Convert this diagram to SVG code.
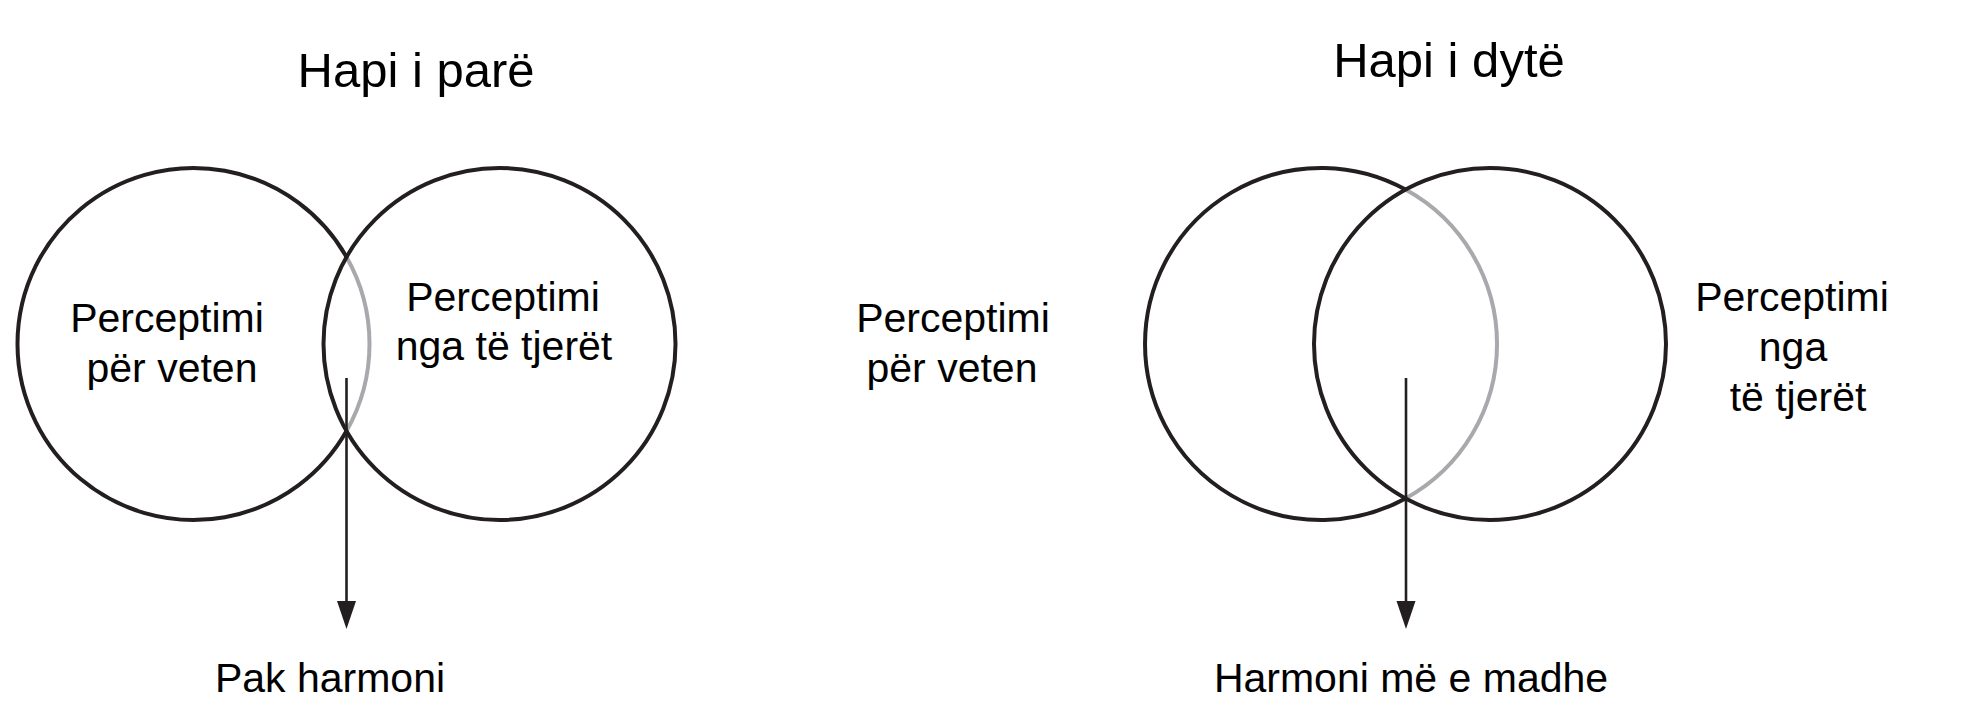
<svg xmlns="http://www.w3.org/2000/svg" width="1965" height="728" viewBox="0 0 1965 728">
<style>
text{font-family:"Liberation Sans",Arial,sans-serif;fill:#000;text-anchor:middle}
.t{font-size:49px}
.l{font-size:41px}
.c{fill:none;stroke:#231f20;stroke-width:4}
.g{fill:none;stroke:#a7a9ac;stroke-width:4}
.a{stroke:#231f20;stroke-width:2.6;fill:none}
.h{fill:#231f20}
</style>
<rect width="1965" height="728" fill="#fff"/>
<g id="step1">
<text class="t" x="416" y="87">Hapi i parë</text>
<g id="s1-self">
<path class="g" d="M346.5 257 A176 176 0 0 1 346.5 431"/>
<path class="c" d="M346.5 257 A176 176 0 1 0 346.5 431"/>
<text class="l" x="167" y="332">Perceptimi</text>
<text class="l" x="172" y="382">për veten</text>
</g>
<g id="s1-others">
<circle class="c" cx="499.5" cy="344" r="176"/>
<text class="l" x="503" y="311">Perceptimi</text>
<text class="l" x="504" y="360">nga të tjerët</text>
</g>
<g id="s1-result">
<text class="l" x="330" y="692">Pak harmoni</text>
</g>
</g>
<g id="step2">
<text class="t" x="1449" y="77">Hapi i dytë</text>
<g id="s2-self">
<path class="g" d="M1405.5 189.6 A176 176 0 0 1 1405.5 498.4"/>
<path class="c" d="M1405.5 189.6 A176 176 0 1 0 1405.5 498.4"/>
<text class="l" x="953" y="332">Perceptimi</text>
<text class="l" x="952" y="382">për veten</text>
</g>
<g id="s2-others">
<circle class="c" cx="1490" cy="344" r="176"/>
<text class="l" x="1792" y="311">Perceptimi</text>
<text class="l" x="1793" y="361">nga</text>
<text class="l" x="1798" y="411">të tjerët</text>
</g>
<g id="s2-result">
<text class="l" x="1411" y="692">Harmoni më e madhe</text>
</g>
</g>
<g id="connectors">
<line class="a" x1="346.5" y1="378" x2="346.5" y2="603"/>
<polygon class="h" points="337,601 356,601 346.5,629"/>
<line class="a" x1="1406" y1="378" x2="1406" y2="603"/>
<polygon class="h" points="1396.5,601 1415.5,601 1406,629"/>
</g>
</svg>
